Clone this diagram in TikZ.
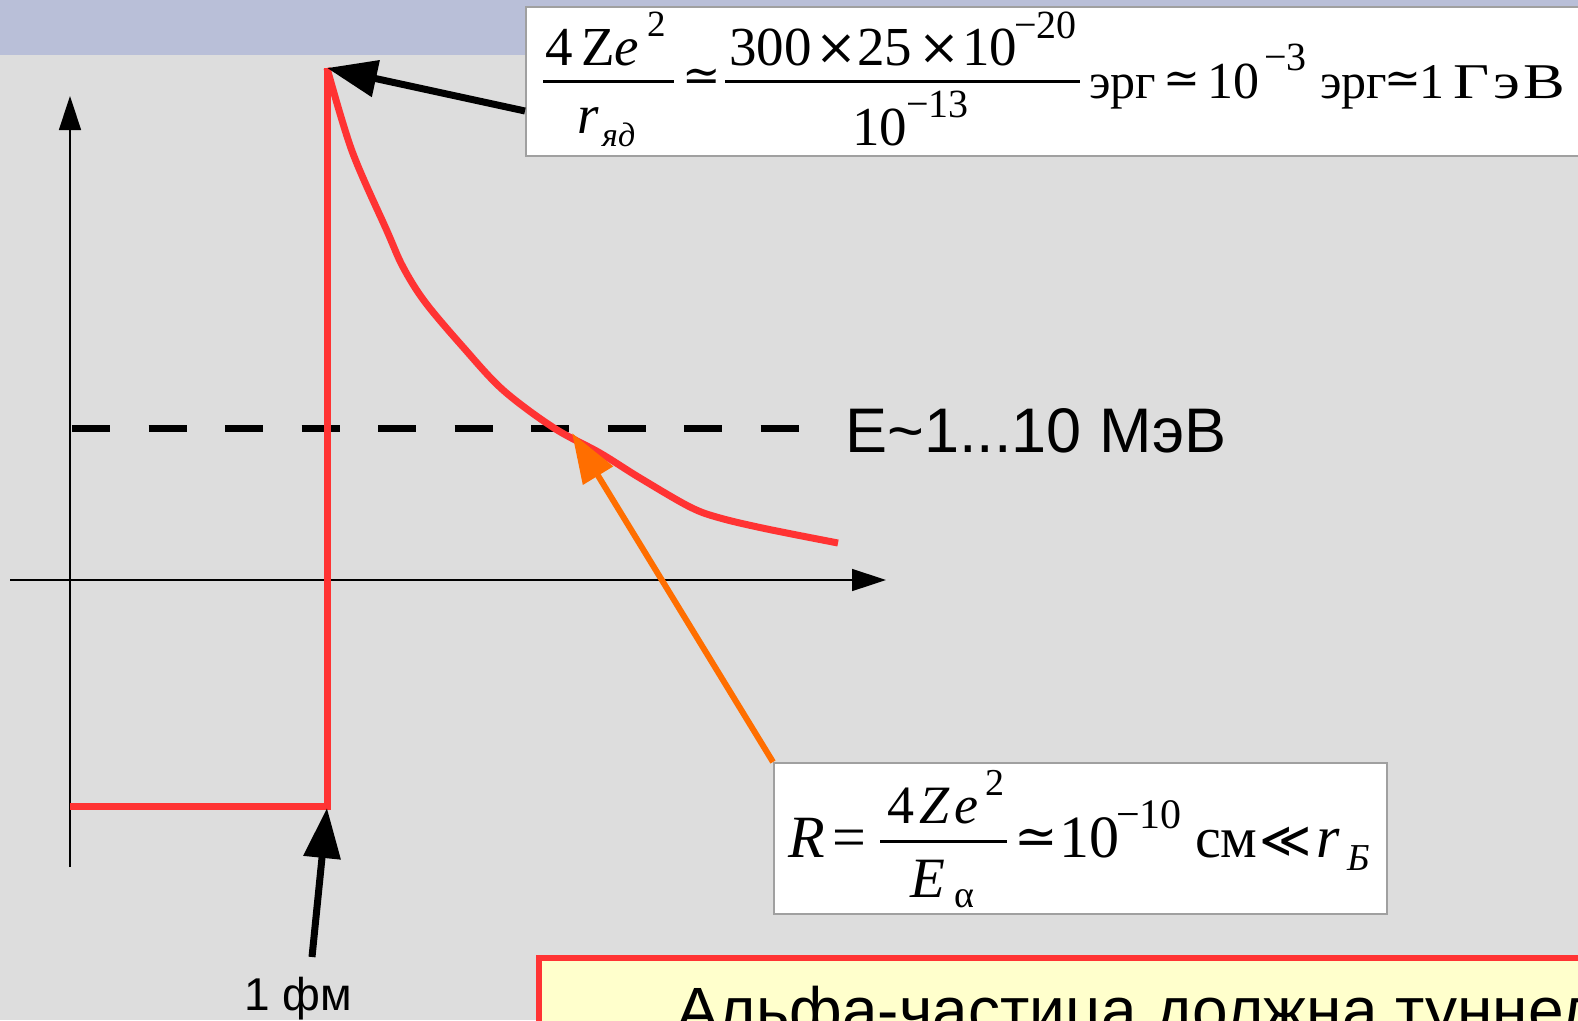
\documentclass[tikz,border=0pt]{standalone}
\usepackage{fontspec}
\usepackage{graphicx}
\setmainfont{Liberation Serif}
\newfontfamily\sansf{Liberation Sans}
\newfontfamily\symf{DejaVu Serif}
\newfontfamily\symsans{DejaVu Sans}
\usetikzlibrary{arrows.meta}
\newcommand\fsz[1]{\fontsize{#1}{#1}\selectfont}
\definecolor{bg}{RGB}{221,221,221}
\definecolor{band}{RGB}{185,191,216}
\definecolor{potred}{RGB}{255,51,51}
\definecolor{orng}{RGB}{255,110,0}
\definecolor{boxgray}{RGB}{160,160,160}
\definecolor{ylw}{RGB}{255,255,204}
\tikzset{
  txt/.style={inner sep=0pt, anchor=base west},
  ctr/.style={inner sep=0pt, anchor=center},
  ax/.style={line width=1.5pt, -{Triangle[length=34pt,width=22pt]}},
  pot/.style={line width=7pt, draw=potred, line join=miter},
  callout/.style={line width=7pt, -{Triangle[length=50pt,width=36pt]}},
  fbox/.style={draw=boxgray, line width=1.5pt, fill=white},
  fbar/.style={line width=3pt},
}
\begin{document}
\begin{tikzpicture}[x=1pt,y=-1pt]
\useasboundingbox (0,0) rectangle (1578,1020);
\clip (0,0) rectangle (1578,1020);
\fill[bg] (0,0) rectangle (1578,1020);
\fill[band] (0,0) rectangle (1578,55);

% axes
\coordinate (yb) at (70,867);
\coordinate (yt) at (70,96);
\coordinate (xl) at (10,580);
\coordinate (xr) at (886,580);
\draw[ax] (yb) -- (yt);
\draw[ax] (xl) -- (xr);

% energy level
\coordinate (el) at (72,428);
\coordinate (er) at (800,428);
\draw[line width=7pt, dash pattern=on 38pt off 38.5pt] (el) -- (er);
\node[txt, font=\sansf\fsz{63}] (elabel) at (845,452) {E\textasciitilde 1...10 МэВ};

% potential
\coordinate (w0) at (70,806);
\coordinate (w1) at (327,806);
\coordinate (peak) at (327,68);
\draw[pot] (w0) -- (w1) -- (peak);
\draw[pot, line cap=butt] plot[smooth, tension=0.55] coordinates {
 (327,68) (352,151) (387,231) (403,267) (425,302) (463,347) (503,390)
 (554,428) (600,453) (640,478) (690,507) (720,518) (767,529) (838,543)};

% top formula box
\node[fbox, anchor=north west, minimum width=1070pt, minimum height=149pt, inner sep=0pt] (topbox) at (525,6) {};
\node[txt, font=\fsz{55}] (t4) at (545,65) {4};
\node[txt, font=\fsz{55}] (tZ) at (581,65) {Z};
\node[txt, font=\fsz{55}\itshape] (te) at (614,65) {e};
\node[txt, font=\fsz{37}] (t2) at (647,36) {2};
\coordinate (b1l) at (543,81);
\coordinate (b1r) at (674,81);
\draw[fbar] (b1l) -- (b1r);
\node[txt, font=\fsz{55}\itshape] (tr) at (577,133) {r};
\node[txt, font=\fsz{34}\itshape] (tyd) at (602,146) {яд};
\node[ctr, font=\symf\fsz{46}] (tsim1) at (702,80) {≃};
\coordinate (b2l) at (725,81);
\coordinate (b2r) at (1080,81);
\draw[fbar] (b2l) -- (b2r);
\node[txt, font=\fsz{55}] (t300) at (729,65) {300};
\node[ctr, font=\symf\fsz{50}] (tx1) at (836,50) {×};
\node[txt, font=\fsz{55}] (t25) at (857,65) {25};
\node[ctr, font=\symf\fsz{50}] (tx2) at (939,50) {×};
\node[txt, font=\fsz{55}] (t10a) at (962,65) {10};
\node[txt, font=\fsz{40}] (tm20) at (1014,38) {−20};
\node[txt, font=\fsz{55}] (t10b) at (852,145) {10};
\node[txt, font=\fsz{40}] (tm13) at (906,117) {−13};
\node[txt, font=\fsz{50}] (terg1) at (1089,98) {эрг};
\node[ctr, font=\symf\fsz{44}] (tsim2) at (1182,83) {≃};
\node[txt, font=\fsz{52}] (t10c) at (1207,98) {10};
\node[txt, font=\fsz{40}] (tm3) at (1264,70) {−3};
\node[txt, font=\fsz{50}] (terg2) at (1320,98) {эрг};
\node[ctr, font=\symf\fsz{44}] (tsim3) at (1403,83) {≃};
\node[txt, font=\fsz{50}] (t1) at (1419,98) {1};
\node[txt, font=\fsz{50}] (tGeV) at (1453,98) {\scalebox{1.25}[1]{Г\hspace{3pt}э\hspace{3pt}В}};

% bottom formula box
\node[fbox, anchor=north west, minimum width=613pt, minimum height=151pt, inner sep=0pt] (botbox) at (773,762) {};
\node[txt, font=\fsz{60}\itshape] (bR) at (788,857) {R};
\node[txt, font=\fsz{60}] (beq) at (832,857) {=};
\coordinate (b3l) at (880,841);
\coordinate (b3r) at (1007,841);
\draw[fbar] (b3l) -- (b3r);
\node[txt, font=\fsz{54}] (b4) at (887,823) {4};
\node[txt, font=\fsz{54}\itshape] (bZ) at (919,823) {Z};
\node[txt, font=\fsz{54}\itshape] (be) at (954,823) {e};
\node[txt, font=\fsz{38}] (b2) at (985,795) {2};
\node[txt, font=\fsz{57}\itshape] (bE) at (910,897) {E};
\node[txt, font=\fsz{38}] (bal) at (954,907) {α};
\node[ctr, font=\symf\fsz{52}] (bsim) at (1036,842) {≃};
\node[txt, font=\fsz{60}] (b10) at (1059,857) {10};
\node[txt, font=\fsz{42}] (bm10) at (1116,828) {−10};
\node[txt, font=\fsz{58}] (bcm) at (1195,857) {см};
\node[ctr, font=\symsans\fsz{50}] (bll) at (1286,842) {≪};
\node[txt, font=\fsz{60}\itshape] (br) at (1316,857) {r};
\node[txt, font=\fsz{38}\itshape] (bB) at (1347,870) {Б};

% callout arrows
\coordinate (a1s) at (525,111);
\draw[callout] (a1s) -- (peak);
\coordinate (a2s) at (312,957);
\coordinate (a2t) at (327,808);
\draw[callout] (a2s) -- (a2t);
\coordinate (cross) at (572,433);
\draw[callout, orng, line width=6pt, -{Triangle[length=50pt,width=34pt]}] (botbox.north west) -- (cross);
\node[inner sep=0pt, anchor=base, font=\sansf\fsz{46}] (fm) at (298,1010) {1 фм};

% yellow box
\node[draw=potred, fill=ylw, line width=6pt, anchor=north west, minimum width=1100pt, minimum height=200pt, inner sep=0pt] (ybox) at (536,955) {};
\node[txt, font=\sansf\fsz{64}] (ytext) at (676,1032) {Альфа-частица должна туннелировать};
\end{tikzpicture}
\end{document}
